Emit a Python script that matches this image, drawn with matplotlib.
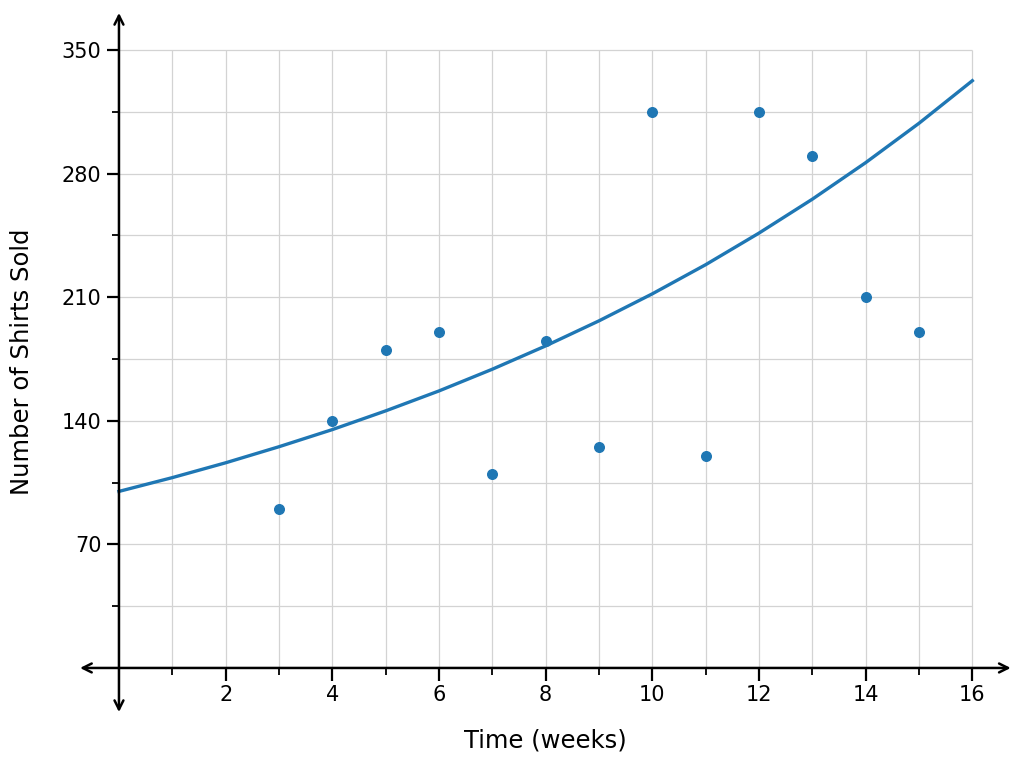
import matplotlib.pyplot as plt

# datos
semanas = [3, 4, 5, 6, 7, 8, 9, 10, 11, 12, 13, 14, 15]
camisas = [90, 140, 180, 190, 110, 185, 125, 315, 120, 315, 290, 210, 190]

curva_x = list(range(0, 17))
curva_y = [100, 107.8, 116.2, 125.3, 135.0, 145.6, 156.9, 169.2, 182.4,
           196.6, 211.9, 228.4, 246.3, 265.5, 286.2, 308.5, 332.6]

x_mayores = [2, 4, 6, 8, 10, 12, 14, 16]
x_menores = [1, 3, 5, 7, 9, 11, 13, 15]
y_mayores = [70, 140, 210, 280, 350]
y_menores = [35, 105, 175, 245, 315]

fig = plt.figure(figsize=(10.2, 7.61), dpi=100)
ax = fig.add_axes([0.0748, 0.0573, 0.9203, 0.935])
ax.set_xlim(-0.8, 16.8)
ax.set_ylim(-28, 375)

# cuadricula solo dentro del primer cuadrante
lineas_x = sorted(x_mayores + x_menores)
lineas_y = sorted(y_mayores + y_menores)
ax.vlines(lineas_x, 0, 350, color="#d3d3d3", lw=0.9, zorder=0)
ax.hlines(lineas_y, 0, 16, color="#d3d3d3", lw=0.9, zorder=0)

ax.plot(curva_x, curva_y, color="#1f77b4", lw=2.4, zorder=3)
ax.scatter(semanas, camisas, s=48, color="#1f77b4", zorder=4)

# ejes en cero con flechas
for lado in ["top", "right"]:
    ax.spines[lado].set_visible(False)
ax.spines["left"].set_position(("data", 0))
ax.spines["bottom"].set_position(("data", 0))
ax.spines["left"].set_color("none")
ax.spines["bottom"].set_color("none")
flecha = dict(arrowstyle="<->", lw=1.8, color="black", shrinkA=0, shrinkB=0,
              mutation_scale=16)
ax.annotate("", xy=(16.72, 0), xytext=(-0.73, 0), arrowprops=flecha, zorder=5)
ax.annotate("", xy=(0, 371), xytext=(0, -25), arrowprops=flecha, zorder=5)

ax.set_xticks(x_mayores)
ax.set_xticks(x_menores, minor=True)
ax.set_yticks(y_mayores)
ax.set_yticks(y_menores, minor=True)
ax.tick_params(which="major", length=9, width=1.6, labelsize=15, direction="out")
ax.tick_params(which="minor", length=5, width=1.3, direction="out")

ax.set_xlabel("Time (weeks)", fontsize=17.5)
ax.set_ylabel("Number of Shirts Sold", fontsize=17.5)
ax.xaxis.set_label_coords(0.5, -0.016)
ax.yaxis.set_label_coords(-0.045, 0.5)

plt.savefig("out.png", dpi=100)
plt.close()
